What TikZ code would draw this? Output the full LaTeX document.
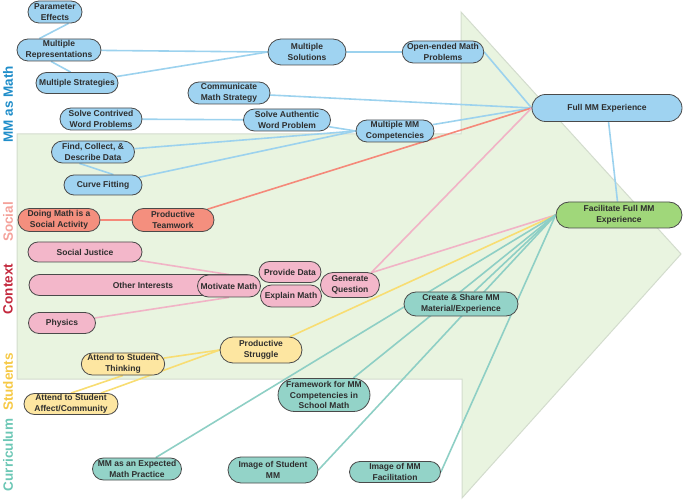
\documentclass[tikz,border=0pt]{standalone}
\usepackage{fontspec}
\setmainfont{Liberation Sans}
\usetikzlibrary{shapes.misc}
\pgfdeclarelayer{latar}
\pgfdeclarelayer{garis}
\pgfsetlayers{latar,garis,main}
\definecolor{isipanah}{HTML}{E9F4E0}
\definecolor{tepipanah}{HTML}{D3DCCD}
\definecolor{tepinode}{HTML}{4A4A4A}
\definecolor{teksnode}{HTML}{2E2E2E}
\definecolor{isibiru}{HTML}{9FD3F1}
\definecolor{isihijau}{HTML}{A0D77A}
\definecolor{isimerah}{HTML}{F48F7E}
\definecolor{isimerahmuda}{HTML}{F3B7CA}
\definecolor{isikuning}{HTML}{FDE6A1}
\definecolor{isitoska}{HTML}{93D3C8}
\definecolor{garisbiru}{HTML}{9CD2EE}
\definecolor{garismerah}{HTML}{F5897A}
\definecolor{garismerahmuda}{HTML}{F1B3C6}
\definecolor{gariskuning}{HTML}{F8DD72}
\definecolor{garistoska}{HTML}{8ECFC5}
\definecolor{judulbiru}{HTML}{1F8DC9}
\definecolor{judulsosial}{HTML}{F4A29B}
\definecolor{judulkonteks}{HTML}{C3283D}
\definecolor{judulsiswa}{HTML}{F6C945}
\definecolor{judulkurikulum}{HTML}{6CC7B5}
\begin{document}
\begin{tikzpicture}[x=1pt, y=-1pt,
      kotak/.style={draw=tepinode, line width=0.8pt, rounded rectangle, inner sep=1pt,
        align=center, text=teksnode, font=\fontsize{8.5}{10.5}\selectfont\bfseries},
      biru/.style={kotak, fill=isibiru},
      hijau/.style={kotak, fill=isihijau},
      merah/.style={kotak, fill=isimerah},
      merahmuda/.style={kotak, fill=isimerahmuda},
      kuning/.style={kotak, fill=isikuning},
      toska/.style={kotak, fill=isitoska},
      ukuran/.style n args={2}{minimum width=#1pt, minimum height=#2pt},
      hubung/.style={line width=1.6pt},
      judul/.style={rotate=90, inner sep=0pt, font=\fontsize{13.5}{15}\selectfont\bfseries}]
    \useasboundingbox (0,0) rectangle (685,502);
    \begin{pgfonlayer}{latar}
      \fill[isipanah, draw=tepipanah, line width=1pt] (17,134) -- (461,134) -- (461,12) -- (681,254)
        -- (462,498) -- (462,379) -- (17,379) -- cycle;
    \end{pgfonlayer}
    \node[judul, text=judulbiru] (judulmath) at (8,104) {MM as Math};
    \node[judul, text=judulsosial] (judulsosial) at (8,222) {Social};
    \node[judul, text=judulkonteks] (judulkonteks) at (8,289) {Context};
    \node[judul, text=judulsiswa] (judulsiswa) at (8,382) {Students};
    \node[judul, text=judulkurikulum] (judulkurikulum) at (8,455) {Curriculum};
    \node[biru, ukuran={56}{22}] (parameter) at (55,12) {Parameter\\Effects};
    \node[biru, ukuran={86}{22}] (representasi) at (59,50) {Multiple\\Representations};
    \node[biru, ukuran={84}{21}] (strategi) at (77,83) {Multiple Strategies};
    \node[biru, ukuran={84}{22}] (rekaan) at (101,119) {Solve Contrived\\Word Problems};
    \node[biru, ukuran={85}{22}] (data) at (93,152) {Find, Collect, \&\\Describe Data};
    \node[biru, ukuran={80}{20}] (kurva) at (103,185) {Curve Fitting};
    \node[biru, ukuran={80}{26}] (solusi) at (307,52) {Multiple\\Solutions};
    \node[biru, ukuran={80}{22}] (terbuka) at (443,52) {Open-ended Math\\Problems};
    \node[biru, ukuran={84}{22}] (komunikasi) at (229,93) {Communicate\\Math Strategy};
    \node[biru, ukuran={89}{22}] (autentik) at (287,120) {Solve Authentic\\Word Problem};
    \node[biru, ukuran={80}{22}] (kompetensi) at (395,131) {Multiple MM\\Competencies};
    \node[biru, ukuran={152}{27}] (penuh) at (607,108) {Full MM Experience};
    \node[hijau, ukuran={128}{26}] (fasilitasi) at (619,215) {Facilitate Full MM\\Experience};
    \node[merah, ukuran={84}{23}] (sosial) at (59,220) {Doing Math is a\\Social Activity};
    \node[merah, ukuran={84}{23}] (timkerja) at (173,220) {Productive\\Teamwork};
    \node[merahmuda, ukuran={116}{20}] (keadilan) at (85,252) {Social Justice};
    \node[merahmuda, ukuran={230}{21}] (minat) at (143,285) {Other Interests};
    \node[merahmuda, ukuran={65}{22}] (motivasi) at (229,286) {Motivate Math};
    \node[merahmuda, ukuran={69}{21}] (fisika) at (62,323) {Physics};
    \node[merahmuda, ukuran={64}{21}] (sediadata) at (290,272) {Provide Data};
    \node[merahmuda, ukuran={63}{22}] (jelaskan) at (291,296) {Explain Math};
    \node[merahmuda, ukuran={61}{25}] (pertanyaan) at (350,285) {Generate\\Question};
    \node[kuning, ukuran={84}{26}] (perjuangan) at (261,350) {Productive\\Struggle};
    \node[kuning, ukuran={80}{22}] (berpikir) at (123,364) {Attend to Student\\Thinking};
    \node[kuning, ukuran={96}{21}] (afeksi) at (71,404) {Attend to Student\\Affect/Community};
    \node[toska, ukuran={116}{24}] (bagikan) at (461,304) {Create \& Share MM\\Material/Experience};
    \node[toska, ukuran={82}{33}] (kerangka) at (324,395) {Framework for MM\\Competencies in\\School Math};
    \node[toska, ukuran={91}{22}] (praktik) at (137,469) {MM as an Expected\\Math Practice};
    \node[toska, ukuran={92}{26}] (citrasiswa) at (273,470) {Image of Student\\MM};
    \node[toska, ukuran={93}{21}] (citrafasil) at (395,472) {Image of MM\\Facilitation};
    \begin{pgfonlayer}{garis}
      \draw[hubung, garisbiru] (parameter.-40) -- (representasi.150);
      \draw[hubung, garisbiru] (representasi.235) -- (strategi.120);
      \draw[hubung, garisbiru] (representasi) -- (solusi.west);
      \draw[hubung, garisbiru] (strategi) -- (solusi.west);
      \draw[hubung, garisbiru] (solusi) -- (terbuka);
      \draw[hubung, garisbiru] (terbuka.east) -- (penuh.west);
      \draw[hubung, garisbiru] (komunikasi) -- (penuh.west);
      \draw[hubung, garisbiru] (rekaan) -- (autentik);
      \draw[hubung, garisbiru] (autentik) -- (kompetensi.west);
      \draw[hubung, garisbiru] (data) -- (kompetensi.west);
      \draw[hubung, garisbiru] (data.220) -- (kurva.45);
      \draw[hubung, garisbiru] (kurva) -- (kompetensi.west);
      \draw[hubung, garisbiru] (kompetensi) -- (penuh.west);
      \draw[hubung, garisbiru] (penuh) -- (fasilitasi);
      \draw[hubung, garismerah] (sosial) -- (timkerja);
      \draw[hubung, garismerah] (timkerja) -- (penuh.west);
      \draw[hubung, garismerahmuda] (keadilan) -- (motivasi.north);
      \draw[hubung, garismerahmuda] (fisika) -- (motivasi.south);
      \draw[hubung, garismerahmuda] (pertanyaan.30) -- (penuh.west);
      \draw[hubung, garismerahmuda] (pertanyaan.30) -- (fasilitasi.west);
      \draw[hubung, gariskuning] (afeksi.north) -- (berpikir.south);
      \draw[hubung, gariskuning] (berpikir) -- (perjuangan.west);
      \draw[hubung, gariskuning] (afeksi) -- (perjuangan.west);
      \draw[hubung, gariskuning] (perjuangan) -- (fasilitasi.west);
      \draw[hubung, garistoska] (bagikan) -- (fasilitasi.west);
      \draw[hubung, garistoska] (kerangka.30) -- (fasilitasi.west);
      \draw[hubung, garistoska] (praktik) -- (fasilitasi.west);
      \draw[hubung, garistoska] (citrasiswa.east) -- (fasilitasi.west);
      \draw[hubung, garistoska] (citrafasil.east) -- (fasilitasi.west);
    \end{pgfonlayer}
  \end{tikzpicture}
\end{document}
